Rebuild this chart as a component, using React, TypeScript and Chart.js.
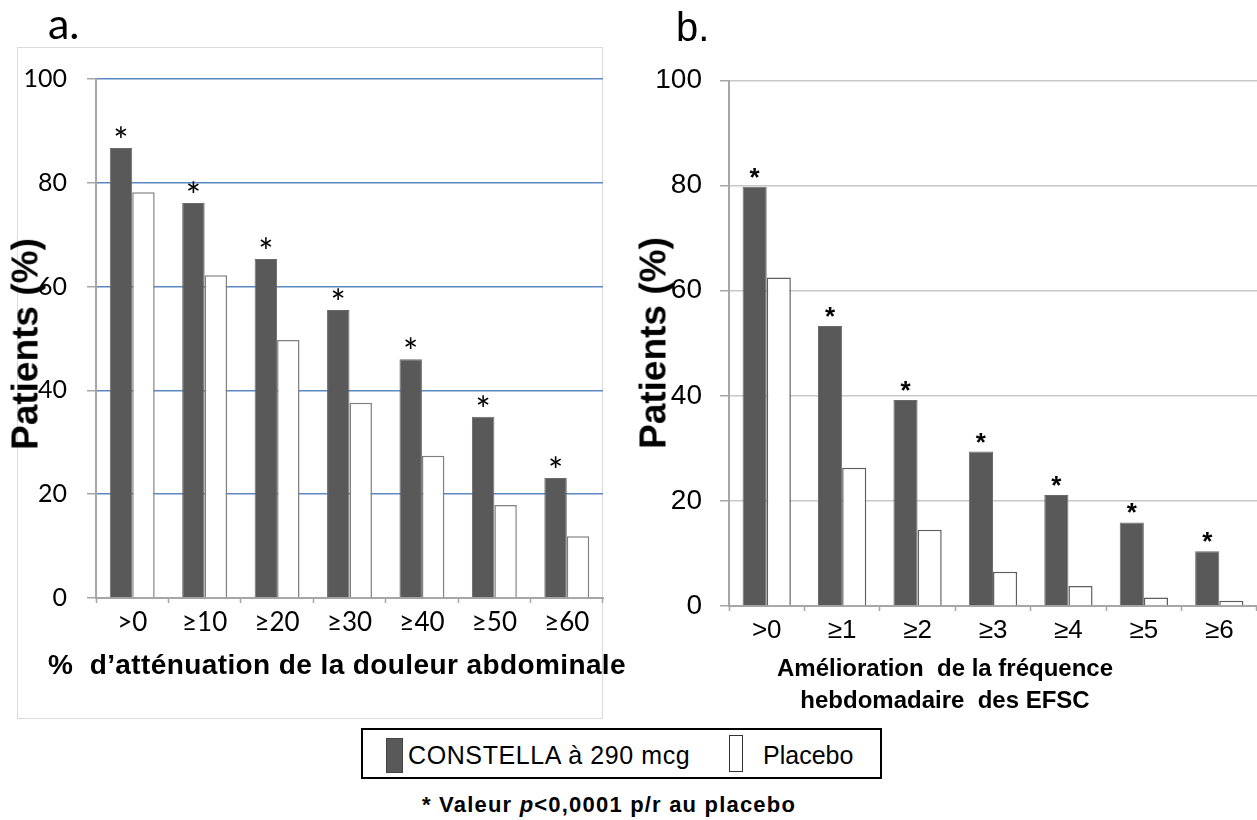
import React, { useEffect, useRef } from "react";
import { Chart, registerables } from "chart.js";

Chart.register(...registerables);

// ---- data ----
const categoriesA = [">0", "≥10", "≥20", "≥30", "≥40", "≥50", "≥60"];
const constellaA = [86.7, 76.1, 65.3, 55.5, 46.0, 34.9, 23.1];
const placeboA = [78.2, 62.2, 49.7, 37.6, 27.4, 17.9, 11.9];
const significanceA = ["*", "*", "*", "*", "*", "*", "*"];

const categoriesB = [">0", "≥1", "≥2", "≥3", "≥4", "≥5", "≥6"];
const constellaB = [79.8, 53.3, 39.2, 29.4, 21.1, 15.9, 10.4];
const placeboB = [62.5, 26.3, 14.5, 6.5, 3.8, 1.6, 1.0];
const significanceB = ["*", "*", "*", "*", "*", "*", "*"];

const yTickValues = [0, 20, 40, 60, 80, 100];
const seriesNames = ["CONSTELLA à 290 mcg", "Placebo"];

const DARK = "#595959";

function starPlugin(marks: string[], font: string, lift: number) {
  return {
    id: "stars",
    afterDatasetsDraw(chart: any) {
      const meta = chart.getDatasetMeta(0);
      const ctx = chart.ctx;
      ctx.save();
      ctx.font = font;
      ctx.fillStyle = "#000";
      ctx.textAlign = "center";
      ctx.textBaseline = "alphabetic";
      meta.data.forEach((bar: any, i: number) => {
        if (marks[i]) ctx.fillText(marks[i], bar.x, bar.y - lift);
      });
      ctx.restore();
    },
  };
}

type PanelOpts = {
  labels: string[];
  a: number[];
  b: number[];
  marks: string[];
  starFont: string;
  starLift: number;
  padding: { left: number; right: number; top: number; bottom: number };
  yWidth: number;
  xHeight: number;
  gridColor: string;
  gridWidth: number;
  tickFont: { family: string; size: number };
  catFont: { family: string; size: number };
  yPad: number;
  xPad: number;
  catPct: number;
  placeboBorder: string;
};

function makeConfig(o: PanelOpts): any {
  return {
    type: "bar",
    data: {
      labels: o.labels,
      datasets: [
        {
          label: seriesNames[0],
          data: o.a,
          backgroundColor: DARK,
          borderColor: "#6a6a6a",
          borderWidth: 1,
          barPercentage: 1,
          categoryPercentage: o.catPct,
        },
        {
          label: seriesNames[1],
          data: o.b,
          backgroundColor: "#ffffff",
          borderColor: o.placeboBorder,
          borderWidth: 1.5,
          barPercentage: 1,
          categoryPercentage: o.catPct,
        },
      ],
    },
    options: {
      responsive: false,
      animation: false,
      devicePixelRatio: 1,
      layout: { padding: o.padding },
      plugins: { legend: { display: false }, tooltip: { enabled: false }, title: { display: false } },
      scales: {
        x: {
          afterFit: (s: any) => {
            s.height = o.xHeight;
          },
          grid: {
            display: true,
            drawOnChartArea: false,
            drawTicks: true,
            tickLength: 5,
            tickColor: "#a6a6a6",
            tickWidth: 1.5,
            offset: true,
          },
          border: { display: true, color: "#a6a6a6", width: 2 },
          ticks: { color: "#000", font: o.catFont, padding: o.xPad, maxRotation: 0, autoSkip: false },
        },
        y: {
          min: 0,
          max: 100,
          afterFit: (s: any) => {
            s.width = o.yWidth;
          },
          afterBuildTicks: (s: any) => {
            s.ticks = yTickValues.map((v) => ({ value: v }));
          },
          grid: {
            color: (c: any) => (c.tick && c.tick.value === 0 ? "rgba(0,0,0,0)" : o.gridColor),
            lineWidth: o.gridWidth,
            tickLength: 9,
            tickColor: "#a6a6a6",
            tickWidth: 1.5,
          },
          border: { display: true, color: "#a6a6a6", width: 2 },
          ticks: { color: "#000", font: o.tickFont, padding: o.yPad },
        },
      },
    },
    plugins: [starPlugin(o.marks, o.starFont, o.starLift)],
  };
}

function Panel(props: { left: number; width: number; height: number; opts: PanelOpts }) {
  const ref = useRef<HTMLCanvasElement | null>(null);
  useEffect(() => {
    if (!ref.current) return;
    const chart = new Chart(ref.current, makeConfig(props.opts));
    return () => chart.destroy();
  }, []);
  return (
    <canvas
      ref={ref}
      width={props.width}
      height={props.height}
      style={{ position: "absolute", left: props.left, top: 0, width: props.width, height: props.height }}
    />
  );
}

const abs = (s: React.CSSProperties): React.CSSProperties => ({ position: "absolute", ...s });

export default function App() {
  const optsA: PanelOpts = {
    labels: categoriesA,
    a: constellaA,
    b: placeboA,
    marks: significanceA,
    starFont: '36px "Lato"',
    starLift: -6,
    padding: { left: 16, right: 17, top: 79, bottom: 62 },
    yWidth: 80,
    xHeight: 60,
    gridColor: "#5a8ac6",
    gridWidth: 1.5,
    tickFont: { family: "Lato", size: 25 },
    catFont: { family: "Lato", size: 26 },
    yPad: 20,
    xPad: 4,
    catPct: 0.62,
    placeboBorder: "#7f7f7f",
  };
  const optsB: PanelOpts = {
    labels: categoriesB,
    a: constellaB,
    b: placeboB,
    marks: significanceB,
    starFont: 'bold 26px "Liberation Sans"',
    starLift: 1,
    padding: { left: 19, right: 0, top: 80.5, bottom: 54 },
    yWidth: 90,
    xHeight: 60,
    gridColor: "#c8c8c8",
    gridWidth: 1.5,
    tickFont: { family: "Liberation Sans", size: 28 },
    catFont: { family: "Liberation Sans", size: 26 },
    yPad: 18,
    xPad: 4,
    catPct: 0.64,
    placeboBorder: "#5f5f5f",
  };

  const yTitle: React.CSSProperties = {
    transform: "translate(-50%,-50%) rotate(-90deg)",
    whiteSpace: "nowrap",
    font: 'bold 37px "Liberation Sans"',
    lineHeight: "37px",
    color: "#000",
  };

  return (
    <div style={abs({ left: 0, top: 0, width: 1257, height: 820, background: "#fff", overflow: "hidden" })}>
      {/* frame of panel a */}
      <div style={abs({ left: 17, top: 47, width: 586, height: 672, border: "1px solid #dadada", boxSizing: "border-box" })} />
      <Panel left={0} width={620} height={720} opts={optsA} />
      <Panel left={620} width={637} height={720} opts={optsB} />

      <div style={abs({ left: 48, top: 1, font: '43px "Lato"', lineHeight: "43px", color: "#000" })}>a.</div>
      <div style={abs({ left: 676, top: 7, font: '40px "Liberation Sans"', lineHeight: "40px", color: "#000" })}>b.</div>

      <div style={abs({ left: 25, top: 344, ...yTitle })}>Patients (%)</div>
      <div style={abs({ left: 653, top: 343, ...yTitle })}>Patients (%)</div>

      <div
        style={abs({
          left: 337,
          top: 665,
          transform: "translate(-50%,-50%)",
          whiteSpace: "pre",
          font: 'bold 28px "Liberation Sans"',
          letterSpacing: "0.4px",
          lineHeight: "30px",
          color: "#000",
        })}
      >
        {"%  d’atténuation de la douleur abdominale"}
      </div>
      <div
        style={abs({
          left: 945,
          top: 684,
          transform: "translate(-50%,-50%)",
          whiteSpace: "pre",
          textAlign: "center",
          font: 'bold 24px "Liberation Sans"',
          lineHeight: "32px",
          color: "#000",
        })}
      >
        {"Amélioration  de la fréquence\nhebdomadaire  des EFSC"}
      </div>

      {/* legend */}
      <div style={abs({ left: 361, top: 728, width: 521, height: 51, border: "2px solid #000", boxSizing: "border-box" })} />
      <div style={abs({ left: 386, top: 738, width: 17, height: 35, background: DARK, border: "1px solid #444", boxSizing: "border-box" })} />
      <div
        style={abs({
          left: 408,
          top: 755,
          transform: "translateY(-50%)",
          font: '25px "Liberation Sans"',
          letterSpacing: "0.6px",
          lineHeight: "30px",
          whiteSpace: "nowrap",
        })}
      >
        {seriesNames[0]}
      </div>
      <div style={abs({ left: 729, top: 735, width: 14, height: 37, background: "#fff", border: "1px solid #333", boxSizing: "border-box" })} />
      <div style={abs({ left: 763, top: 755, transform: "translateY(-50%)", font: '25px "Liberation Sans"', lineHeight: "30px", whiteSpace: "nowrap" })}>
        {seriesNames[1]}
      </div>

      <div
        style={abs({
          left: 422,
          top: 805,
          transform: "translateY(-50%)",
          font: 'bold 22px "Liberation Sans"',
          letterSpacing: "1.2px",
          lineHeight: "26px",
          whiteSpace: "nowrap",
        })}
      >
        * Valeur <i>p</i>&lt;0,0001 p/r au placebo
      </div>
    </div>
  );
}
